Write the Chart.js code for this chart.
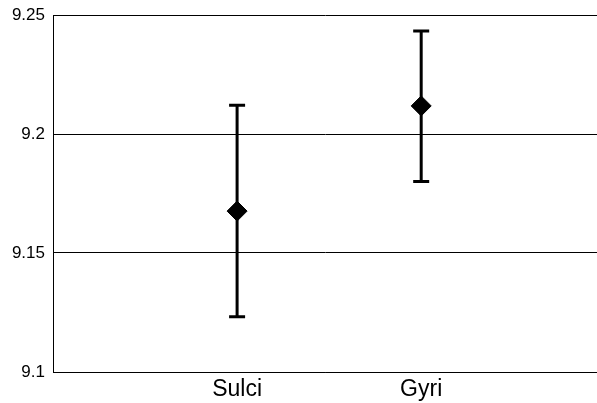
<!DOCTYPE html>
<html>
<head>
<meta charset="utf-8">
<script src="https://cdn.jsdelivr.net/npm/chart.js@4/dist/chart.umd.min.js"></script>
<style>
  html, body { margin: 0; padding: 0; background: #fff; }
  #wrap { width: 597px; height: 403px; }
</style>
</head>
<body>
<div id="wrap"><canvas id="myChart"></canvas></div>
<script>
// data
const categories = ['Sulci', 'Gyri'];
const means = [9.1676, 9.2118];
const upper = [9.2121, 9.2433];
const lower = [9.1232, 9.1800];
const yTicks = [9.1, 9.15, 9.2, 9.25];

const points = categories.map((c, i) => ({ x: i + 1, y: means[i] }));

// whiskers drawn under the markers, through the chart scales
const errorBars = {
  id: 'errorBars',
  beforeDatasetsDraw(chart) {
    const { ctx, scales: { x, y } } = chart;
    ctx.save();
    ctx.strokeStyle = '#000';
    ctx.lineWidth = 3;
    categories.forEach((c, i) => {
      const px = x.getPixelForValue(i + 1);
      const top = y.getPixelForValue(upper[i]);
      const bot = y.getPixelForValue(lower[i]);
      ctx.beginPath();
      ctx.moveTo(px, top);
      ctx.lineTo(px, bot);
      ctx.moveTo(px - 8, top);
      ctx.lineTo(px + 8, top);
      ctx.moveTo(px - 8, bot);
      ctx.lineTo(px + 8, bot);
      ctx.stroke();
    });
    ctx.restore();
  }
};

new Chart(document.getElementById('myChart'), {
  type: 'scatter',
  data: {
    datasets: [{
      data: points,
      pointStyle: 'rectRot',
      pointRadius: 10,
      pointHoverRadius: 10,
      backgroundColor: '#000',
      borderColor: '#000',
      borderWidth: 1,
      showLine: false
    }]
  },
  options: {
    responsive: true,
    maintainAspectRatio: false,
    animation: false,
    layout: { autoPadding: false, padding: 0 },
    plugins: { legend: { display: false }, tooltip: { enabled: false } },
    scales: {
      x: {
        type: 'linear',
        min: 0,
        max: 2.955,
        afterBuildTicks: (axis) => { axis.ticks = categories.map((c, i) => ({ value: i + 1 })); },
        afterFit: (axis) => { axis.height = 31; axis.paddingLeft = 0; axis.paddingRight = 0; },
        ticks: {
          callback: (v) => categories[v - 1],
          color: '#000',
          font: { family: 'Liberation Sans, Arial, sans-serif', size: 23 },
          padding: 4,
          maxRotation: 0
        },
        grid: { display: false, drawTicks: false },
        border: { display: true, color: '#000', width: 1 }
      },
      y: {
        min: 9.1,
        max: 9.25,
        afterBuildTicks: (axis) => { axis.ticks = yTicks.map(v => ({ value: v })); },
        afterFit: (axis) => { axis.width = 53; axis.paddingTop = 15; axis.paddingBottom = 0; },
        ticks: {
          callback: (v) => String(v),
          color: '#000',
          font: { family: 'Liberation Sans, Arial, sans-serif', size: 17 },
          padding: 8
        },
        grid: { color: '#000', lineWidth: 1, drawTicks: false },
        border: { display: true, color: '#000', width: 1 }
      }
    }
  },
  plugins: [errorBars]
});
</script>
</body>
</html>
